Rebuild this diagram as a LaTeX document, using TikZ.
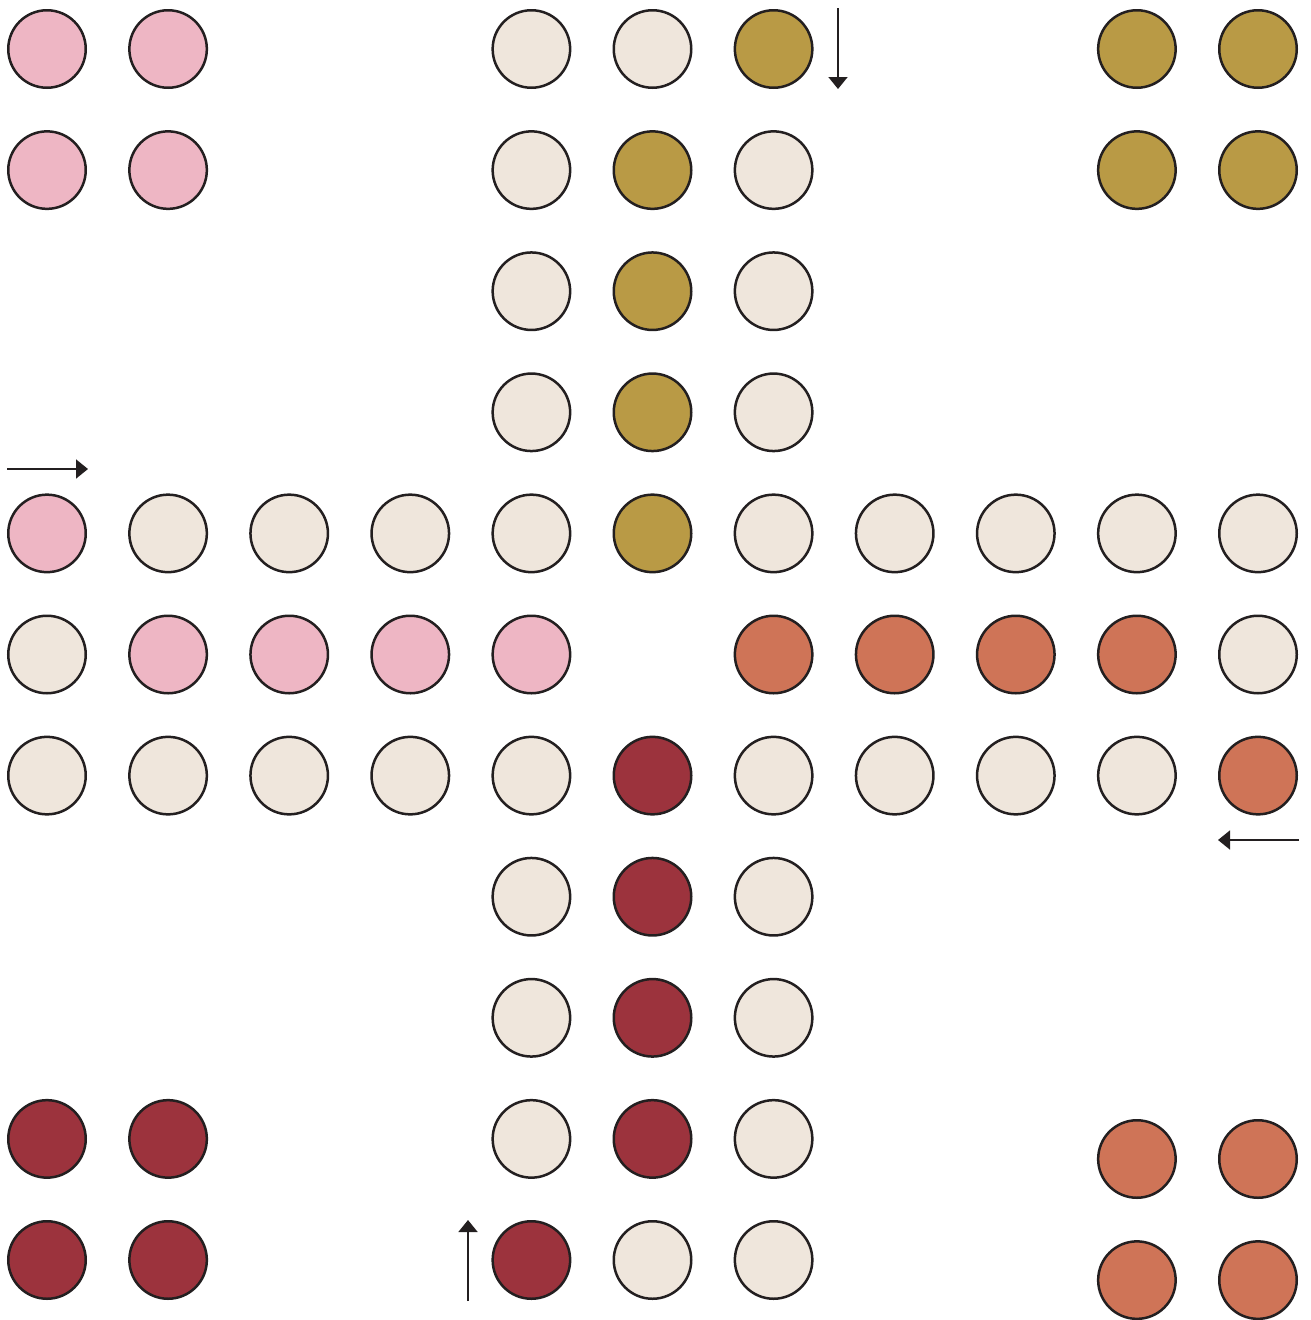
\documentclass[tikz,border=0pt]{standalone}
\usepackage{tikz}
\usetikzlibrary{arrows.meta}
\definecolor{ink}{HTML}{231F20}
\definecolor{pink}{HTML}{EEB6C4}
\definecolor{cream}{HTML}{EFE6DC}
\definecolor{gold}{HTML}{B99A45}
\definecolor{wine}{HTML}{9C333D}
\definecolor{rust}{HTML}{CF7457}

\begin{document}
\begin{tikzpicture}[x=1pt,y=-1pt,
  spot/.style={circle,draw=ink,line width=2.5pt,minimum size=77.5pt,inner sep=0pt},
  entry/.style={-{Triangle[width=19pt,length=12pt]},line width=1.8pt,draw=ink}]

\useasboundingbox (0,0) rectangle (1310,1320);

% board squares (column/row on a 121.1 grid)
\foreach \c/\r in {4/0,5/0, 4/1,6/1, 4/2,6/2, 4/3,6/3,
                   1/4,2/4,3/4,4/4,6/4,7/4,8/4,9/4,10/4,
                   0/5,10/5,
                   0/6,1/6,2/6,3/6,4/6,6/6,7/6,8/6,9/6,
                   4/7,6/7, 4/8,6/8, 4/9,6/9, 5/10,6/10}
  \node[spot,fill=cream] (s-\c-\r) at (47+121.1*\c,49+121.1*\r) {};

% pink: home and run
\foreach \c/\r in {0/0,1/0,0/1,1/1, 0/4, 1/5,2/5,3/5,4/5}
  \node[spot,fill=pink] (s-\c-\r) at (47+121.1*\c,49+121.1*\r) {};

% gold: home and run
\foreach \c/\r in {9/0,10/0,9/1,10/1, 6/0, 5/1,5/2,5/3,5/4}
  \node[spot,fill=gold] (s-\c-\r) at (47+121.1*\c,49+121.1*\r) {};

% rust: run (home sits lower)
\foreach \c/\r in {10/6, 6/5,7/5,8/5,9/5}
  \node[spot,fill=rust] (s-\c-\r) at (47+121.1*\c,49+121.1*\r) {};
\foreach \c/\r in {9/0,10/0,9/1,10/1}
  \node[spot,fill=rust] (h-\c-\r) at (47+121.1*\c,1159+121.1*\r) {};

% wine: home and run
\foreach \c/\r in {0/9,1/9,0/10,1/10, 4/10, 5/6,5/7,5/8,5/9}
  \node[spot,fill=wine] (s-\c-\r) at (47+121.1*\c,49+121.1*\r) {};

% entry arrows
\coordinate (pinkA) at (7,469);   \coordinate (pinkB) at (88,469);
\coordinate (goldA) at (838,8);   \coordinate (goldB) at (838,89);
\coordinate (rustA) at (1299,840); \coordinate (rustB) at (1218,840);
\coordinate (wineA) at (468,1301); \coordinate (wineB) at (468,1220);
\draw[entry] (pinkA)--(pinkB);
\draw[entry] (goldA)--(goldB);
\draw[entry] (rustA)--(rustB);
\draw[entry] (wineA)--(wineB);

\end{tikzpicture}
\end{document}
